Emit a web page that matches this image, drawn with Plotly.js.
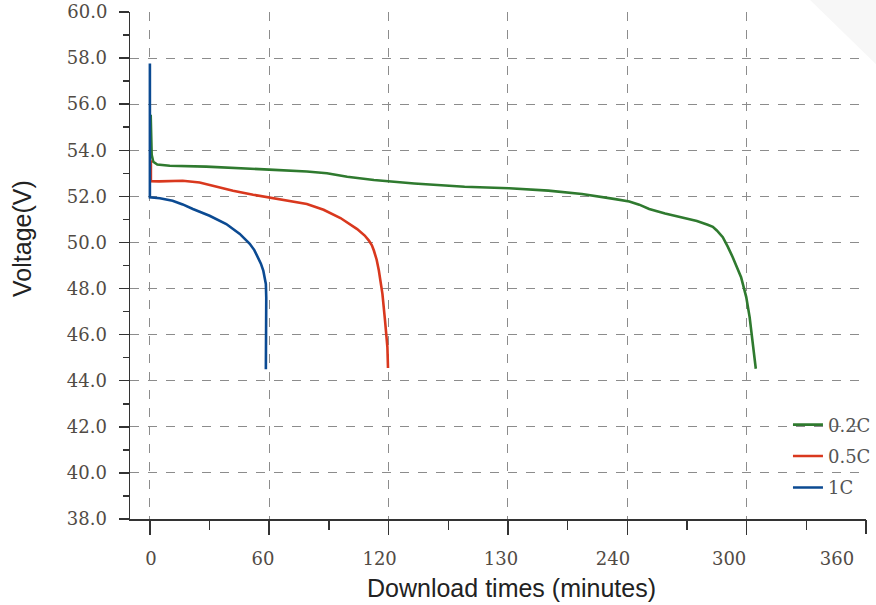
<!DOCTYPE html>
<html>
<head>
<meta charset="utf-8">
<script src="https://cdn.plot.ly/plotly-3.0.1.min.js"></script>
<style>html,body{margin:0;padding:0;background:#fff;}#chart{width:876px;height:605px;}</style>
</head>
<body>
<div id="chart"></div>
<script>
// ---- data ----
var seriesNames = ['0.2C', '0.5C', '1C'];

var greenX = [0.4, 0.5, 0.9, 1.7, 3.7, 10, 28.3, 60, 78.9, 89, 99.2, 112.6, 132.9, 158.2, 180.6, 200.3, 217.2, 234, 241, 246, 251, 259, 267.8, 275, 280.4, 283, 285, 288, 290.5, 293, 297.2, 299.8, 301.5, 303.2, 304.6];
var greenY = [55.54, 54.3, 53.8, 53.5, 53.38, 53.33, 53.29, 53.16, 53.08, 53.0, 52.85, 52.71, 52.56, 52.42, 52.35, 52.25, 52.10, 51.88, 51.78, 51.64, 51.45, 51.26, 51.09, 50.93, 50.77, 50.68, 50.52, 50.23, 49.82, 49.36, 48.49, 47.63, 46.76, 45.6, 44.52];

var redX = [0.5, 0.5, 4.7, 16.5, 25, 31.7, 41.8, 51.9, 60, 70.5, 78.9, 87.3, 95.8, 104.2, 108, 110.1, 111.6, 112.6, 114, 115.1, 116.9, 118.2, 119.4, 119.7];
var redY = [53.57, 52.66, 52.65, 52.68, 52.6, 52.46, 52.24, 52.07, 51.95, 51.81, 51.67, 51.42, 51.06, 50.58, 50.30, 50.08, 49.88, 49.65, 49.25, 48.78, 47.77, 46.62, 45.46, 44.55];

var blueX = [0, 0, 5, 11.4, 16.5, 21.6, 30, 38.4, 45.2, 50.2, 52.5, 54.4, 55.8, 57.0, 57.8, 58.3, 58.5, 58.4, 58.3];
var blueY = [57.76, 51.96, 51.92, 51.81, 51.65, 51.45, 51.16, 50.80, 50.37, 49.94, 49.67, 49.36, 49.08, 48.78, 48.5, 48.2, 47.6, 46.0, 44.5];

var xTickVals = [0, 60, 120, 180, 240, 300, 360];
var xTickText = ['0', '60', '120', '130', '240', '300', '360'];
var yTickVals = [38, 40, 42, 44, 46, 48, 50, 52, 54, 56, 58, 60];

// ---- styling ----
var colors = ['#2f7a2f', '#d9381e', '#0b4a92'];
var xs = [greenX, redX, blueX];
var ys = [greenY, redY, blueY];
var traces = seriesNames.map(function (n, i) {
  return {
    x: xs[i], y: ys[i], name: n, mode: 'lines', legendgroup: n,
    line: {color: colors[i], width: 2.6, shape: 'linear'}
  };
});

var tickFont = {family: 'DejaVu Serif, serif', size: 18, color: '#514b45'};
var lastX = xTickVals[xTickVals.length - 1];
var lastY = yTickVals[yTickVals.length - 1];
// label positions in the reference sit slightly left of their gridlines
var xLabelPos = [0.5, 56.8, 115.5, 176.5, 232.8, 291.2, 345.4];
var xRange = [-10, 360];
var yRange = [38, 60];
var tickStyle = {ticks: 'outside', tickwidth: 1.5, tickcolor: '#333'};

function merge(a, b) { var o = {}; for (var k in a) o[k] = a[k]; for (var k2 in b) o[k2] = b[k2]; return o; }

var layout = {
  width: 876, height: 605,
  margin: {l: 130, r: 10, t: 12, b: 86, autoexpand: false},
  paper_bgcolor: '#fff', plot_bgcolor: '#fff',
  showlegend: true,
  legend: {
    x: 0.8995, xref: 'container', xanchor: 'left', y: 0.222, yanchor: 'top',
    font: {family: 'DejaVu Serif, serif', size: 18, color: '#555'},
    bgcolor: 'rgba(0,0,0,0)', tracegroupgap: 5
  },
  // main x axis: gridlines + major ticks (without the edge gridline at 360)
  xaxis: merge(tickStyle, {
    range: xRange, tickvals: xTickVals.slice(0, -1), showticklabels: false, ticklen: 14,
    showline: true, linecolor: '#333', linewidth: 1.5,
    showgrid: true, gridcolor: '#8c8c8c', griddash: 'dash', gridwidth: 1,
    zeroline: false,
    minor: {dtick: 30, tick0: 0, ticks: 'outside', ticklen: 9, tickwidth: 1.5, tickcolor: '#333', showgrid: false}
  }),
  // tick labels
  xaxis2: {
    overlaying: 'x', anchor: 'y', side: 'bottom', range: xRange,
    tickvals: xLabelPos, ticktext: xTickText, ticks: '', showline: false,
    showgrid: false, zeroline: false, tickfont: tickFont, ticklabelstandoff: 27
  },
  // end tick at 360
  xaxis3: merge(tickStyle, {
    overlaying: 'x', anchor: 'y', side: 'bottom', range: xRange,
    tickvals: [lastX], ticklen: 14, showticklabels: false, showline: false,
    showgrid: false, zeroline: false
  }),
  yaxis: merge(tickStyle, {
    range: yRange, tickvals: yTickVals.slice(0, -1), tickformat: '.1f', ticklen: 10,
    showline: true, linecolor: '#333', linewidth: 1.5,
    showgrid: true, gridcolor: '#8c8c8c', griddash: 'dash', gridwidth: 1,
    zeroline: false, tickfont: tickFont, ticklabelstandoff: 8,
    minor: {dtick: 1, tick0: 38, ticks: 'outside', ticklen: 6, tickwidth: 1.5, tickcolor: '#333', showgrid: false}
  }),
  yaxis2: merge(tickStyle, {
    overlaying: 'y', anchor: 'x', side: 'left', range: yRange,
    tickvals: [lastY], tickformat: '.1f', ticklen: 10, showline: false,
    showgrid: false, zeroline: false, tickfont: tickFont, ticklabelstandoff: 8
  }),
  annotations: [
    {text: 'Voltage(V)', xref: 'paper', yref: 'paper', x: -0.147, y: 0.554,
     xanchor: 'center', yanchor: 'middle', textangle: -90, showarrow: false,
     font: {family: 'Liberation Sans, Arial, sans-serif', size: 25, color: '#222'}},
    {text: 'Download times (minutes)', xref: 'paper', yref: 'paper', x: 0.519, y: -0.136,
     xanchor: 'center', yanchor: 'middle', showarrow: false,
     font: {family: 'Liberation Sans, Arial, sans-serif', size: 25, color: '#222'}}
  ],
  shapes: [
    {type: 'path', xref: 'paper', yref: 'paper', layer: 'below',
     path: 'M 0.924 1.0237 L 1.0136 1.0237 L 1.0136 0.897 Z',
     fillcolor: '#f7f7f7', line: {width: 0}}
  ]
};

// empty traces so that the helper axes are drawn
traces.push({x: [], y: [], xaxis: 'x2', yaxis: 'y', showlegend: false, hoverinfo: 'skip'});
traces.push({x: [], y: [], xaxis: 'x3', yaxis: 'y2', showlegend: false, hoverinfo: 'skip'});

Plotly.newPlot('chart', traces, layout, {displayModeBar: false, staticPlot: true});
</script>
</body>
</html>
